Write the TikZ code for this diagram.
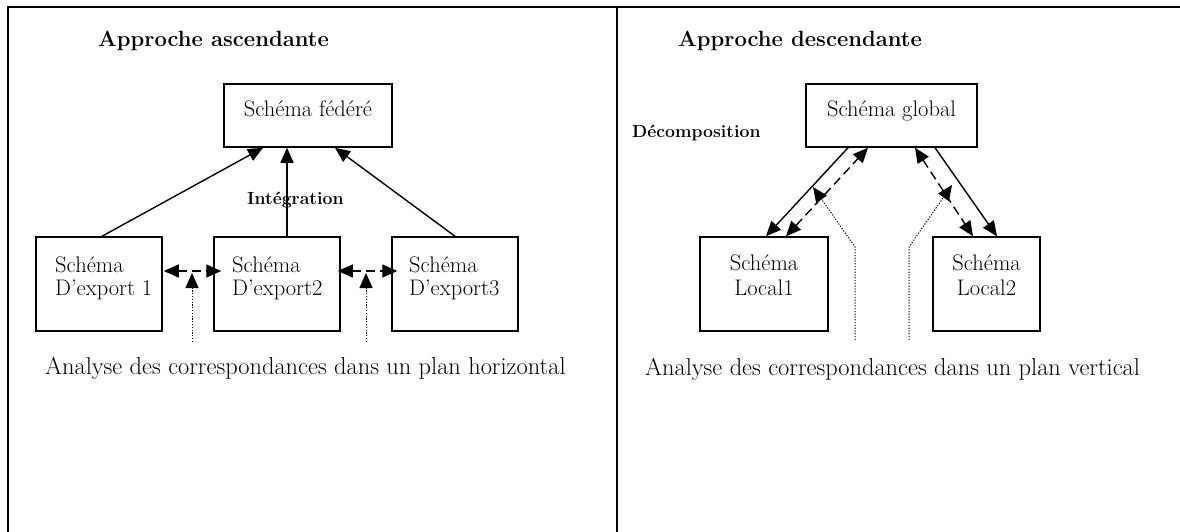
\documentclass[tikz,border=0pt]{standalone}
\usetikzlibrary{arrows.meta}
\begin{document}
\begin{tikzpicture}[x=1pt,y=-1pt,
  frame/.style={line width=1.6pt},
  schema/.style={draw, line width=1.5pt, inner sep=0pt, fill=white},
  txt/.style={font=\fontsize{22.5}{26}\selectfont, inner sep=0pt},
  note/.style={font=\fontsize{24.4}{28}\selectfont, inner sep=0pt},
  title/.style={font=\fontsize{22}{26}\selectfont\bfseries, inner sep=0pt},
  tag/.style={font=\fontsize{17.6}{20}\selectfont\bfseries, inner sep=0pt},
  head/.tip={Triangle[length=15pt,width=13pt]},
  solidarrow/.style={line width=1.4pt, -{head}},
  dasharrow/.style={line width=1.4pt, dash pattern=on 9pt off 5pt, {head}-{head}},
  dotarrow/.style={line width=1pt, dash pattern=on 1.2pt off 1.6pt, -{head}}]
\useasboundingbox (0,0) rectangle (1180,532);

% table frame: top rule, left rule and the column divider
\draw[frame] (8,532) -- (8,7) -- (1180,7);
\draw[frame] (617,7) -- (617,532);

% ---------------- left column: bottom-up approach ----------------
\node[title, anchor=base west] (tasc) at (98,47) {Approche ascendante};

\node[schema, minimum width=168pt, minimum height=63pt] (fed) at (308,115.5) {};
\node[txt, anchor=base] (fedtxt) at (308,117) {Schéma fédéré};

\node[schema, minimum width=126pt, minimum height=94pt] (e1) at (99,284) {};
\node[schema, minimum width=126pt, minimum height=94pt] (e2) at (277,284) {};
\node[schema, minimum width=126pt, minimum height=94pt] (e3) at (455,284) {};

\node[txt, anchor=base west] (e1a) at (55,272) {Schéma};
\node[txt, anchor=base west] (e1b) at (55,295) {D’export 1};
\node[txt, anchor=base west] (e2a) at (232,272) {Schéma};
\node[txt, anchor=base west] (e2b) at (232,295) {D’export2};
\node[txt, anchor=base west] (e3a) at (409,272) {Schéma};
\node[txt, anchor=base west] (e3b) at (409,295) {D’export3};

\node[tag, anchor=base west] (integ) at (247,204) {Intégration};

\draw[solidarrow] ([xshift=3pt]e1.north) -- ([xshift=-45pt]fed.south);
\draw[solidarrow] ([xshift=10pt]e2.north) -- ([xshift=-21pt]fed.south);
\draw[solidarrow] (e3.north) -- ([xshift=27pt]fed.south);

\draw[dasharrow] ([xshift=1pt,yshift=13pt]e1.east) -- ([xshift=8pt,yshift=13pt]e2.west);
\draw[dasharrow] ([xshift=-3pt,yshift=13pt]e2.east) -- ([xshift=6pt,yshift=13pt]e3.west);

\coordinate (h1) at (192,342);
\coordinate (h1t) at (192,273);
\coordinate (h2) at (366,342);
\coordinate (h2t) at (366,273);
\draw[dotarrow] (h1) -- (h1t);
\draw[dotarrow] (h2) -- (h2t);

\node[note, anchor=base west] (horiz) at (45,374)
  {Analyse des correspondances dans un plan horizontal};

% ---------------- right column: top-down approach ----------------
\node[title, anchor=base west] (tdesc) at (678,47) {Approche descendante};

\node[schema, minimum width=171pt, minimum height=63pt] (gl) at (891.5,115.5) {};
\node[txt, anchor=base] (gltxt) at (891.5,117) {Schéma global};

\node[tag, anchor=base west] (decomp) at (632,137) {Décomposition};

\node[schema, minimum width=128pt, minimum height=94pt] (l1) at (764,284) {};
\node[schema, minimum width=107pt, minimum height=94pt] (l2) at (986.5,284) {};

\node[txt, anchor=base] (l1a) at (764,270) {Schéma};
\node[txt, anchor=base] (l1b) at (764,295) {Local1};
\node[txt, anchor=base] (l2a) at (986.5,270) {Schéma};
\node[txt, anchor=base] (l2b) at (986.5,295) {Local2};

\draw[solidarrow] ([xshift=-43.5pt]gl.south) -- ([xshift=2pt]l1.north);
\draw[dasharrow] ([xshift=22pt]l1.north) -- ([xshift=-23.5pt]gl.south);
\draw[dasharrow] ([xshift=23.5pt]gl.south) -- ([xshift=-13.5pt]l2.north);
\draw[solidarrow] ([xshift=43.5pt]gl.south) -- ([xshift=10.5pt]l2.north);

\coordinate (v1) at (855,340);
\coordinate (v1k) at (855,247);
\coordinate (v1t) at (813,187);
\coordinate (v2) at (909,340);
\coordinate (v2k) at (909,247);
\coordinate (v2t) at (952,185);
\draw[dotarrow] (v1) -- (v1k) -- (v1t);
\draw[dotarrow] (v2) -- (v2k) -- (v2t);

\node[note, anchor=base west] (vert) at (645,375)
  {Analyse des correspondances dans un plan vertical};
\end{tikzpicture}
\end{document}
